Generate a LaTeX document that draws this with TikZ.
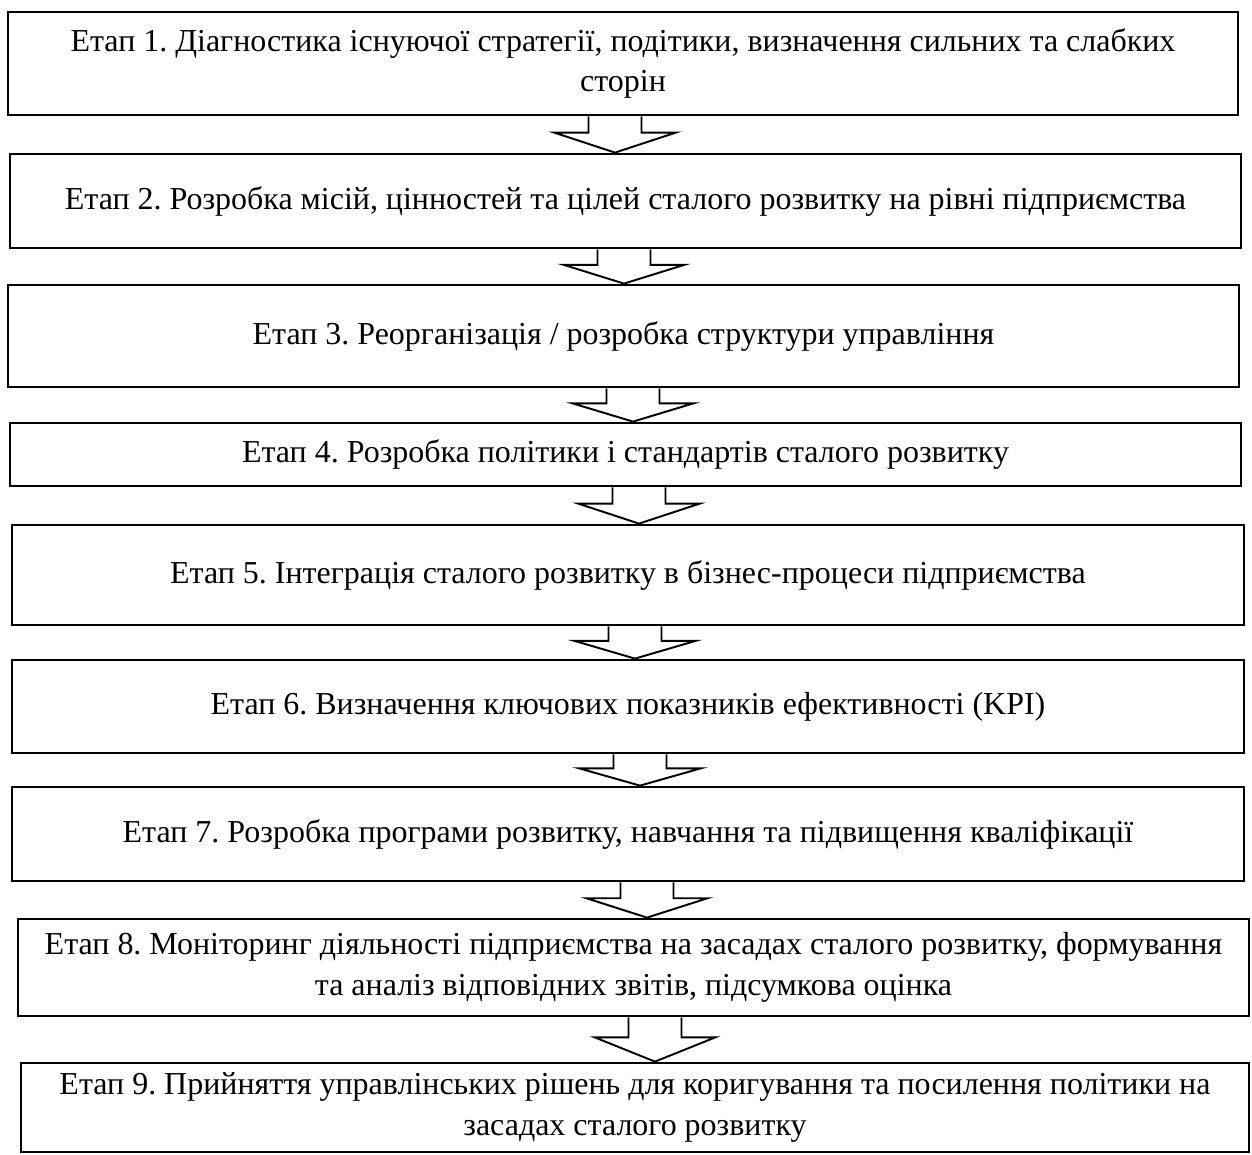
\documentclass[tikz,border=0pt]{standalone}
\usepackage{fontspec}
\setmainfont{Liberation Serif}
\usepackage{tikz}
\usetikzlibrary{
  positioning,
  calc
}
\frenchspacing
\newcommand{\pxu}{0.02cm}
\newcommand{\stagearrow}[3]{%
  \draw[stagearrowline] let \p1=($(#1.south)+(#3,0)$), \p2=(#2.north), \n1={0.45*(\y1-\y2)} in
    (\x1-0.53cm,\y1) -- (\x1-0.53cm,\y1-\n1) -- (\x1-1.21cm,\y1-\n1) -- (\x1,\y2)
    -- (\x1+1.21cm,\y1-\n1) -- (\x1+0.53cm,\y1-\n1) -- (\x1+0.53cm,\y1);}

\begin{document}
\begin{tikzpicture}[x=0.02cm, y=-0.02cm,
  stagebox/.style={draw=black, line width=1.6pt, rectangle, align=center, inner sep=0pt,
    font=\fontsize{18.2}{23}\selectfont},
  stagearrowline/.style={draw=black, fill=white, line width=1.1pt, line join=miter}]
  \useasboundingbox (0,0) rectangle (1252,1154);
  \node (stage1) [stagebox, minimum width=1230*\pxu, minimum height=103*\pxu] at (623,63.5)
    {Етап 1. Діагностика існуючої стратегії, подітики, визначення сильних та слабких\\сторін};
  \node (stage2) [stagebox, minimum width=1231*\pxu, minimum height=94*\pxu] at (625.5,201)
    {Етап 2. Розробка місій, цінностей та цілей сталого розвитку на рівні підприємства};
  \node (stage3) [stagebox, minimum width=1231*\pxu, minimum height=102*\pxu] at (623.5,336)
    {Етап 3. Реорганізація / розробка структури управління};
  \node (stage4) [stagebox, minimum width=1231*\pxu, minimum height=63*\pxu] at (625.5,454.5)
    {Етап 4. Розробка політики і стандартів сталого розвитку};
  \node (stage5) [stagebox, minimum width=1232*\pxu, minimum height=100*\pxu] at (628,575)
    {Етап 5. Інтеграція сталого розвитку в бізнес-процеси підприємства};
  \node (stage6) [stagebox, minimum width=1232*\pxu, minimum height=93*\pxu] at (628,706.5)
    {Етап 6. Визначення ключових показників ефективності (KPI)};
  \node (stage7) [stagebox, minimum width=1232*\pxu, minimum height=94*\pxu] at (628,834)
    {Етап 7. Розробка програми розвитку, навчання та підвищення кваліфікації};
  \node (stage8) [stagebox, minimum width=1231*\pxu, minimum height=97*\pxu] at (633.5,967.5)
    {Етап 8. Моніторинг діяльності підприємства на засадах сталого розвитку, формування\\та аналіз відповідних звітів, підсумкова оцінка};
  \node (stage9) [stagebox, minimum width=1228*\pxu, minimum height=89*\pxu] at (635,1107.5)
    {Етап 9. Прийняття управлінських рішень для коригування та посилення політики на\\засадах сталого розвитку};
  \stagearrow{stage1}{stage2}{-8}
  \stagearrow{stage2}{stage3}{-1.5}
  \stagearrow{stage3}{stage4}{9.5}
  \stagearrow{stage4}{stage5}{13.5}
  \stagearrow{stage5}{stage6}{7}
  \stagearrow{stage6}{stage7}{12}
  \stagearrow{stage7}{stage8}{19}
  \stagearrow{stage8}{stage9}{21.5}
\end{tikzpicture}
\end{document}
